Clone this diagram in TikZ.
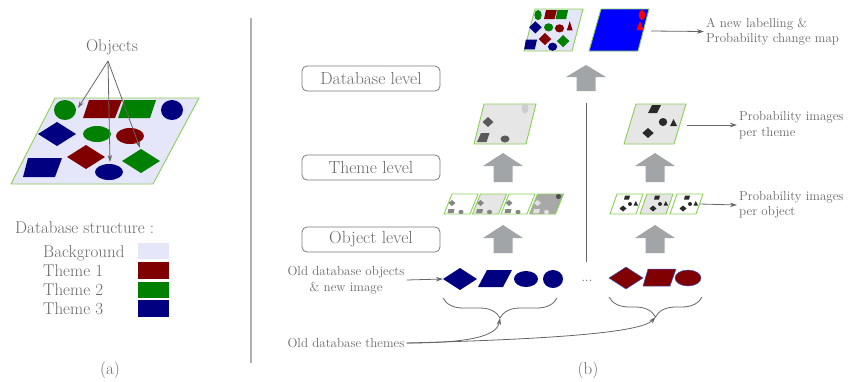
\documentclass[tikz,border=0pt]{standalone}
\usepackage{fontspec}
\usetikzlibrary{arrows.meta,decorations.pathreplacing}
\definecolor{dgreen}{HTML}{008000}
\definecolor{dred}{HTML}{800000}
\definecolor{dblue}{HTML}{000080}
\definecolor{lav}{HTML}{E6E6FA}
\definecolor{bgreen}{HTML}{8CCF55}
\definecolor{txtgray}{HTML}{686868}
\definecolor{boxgray}{HTML}{7A7A7A}
\definecolor{lngray}{HTML}{666666}
\definecolor{arrgray}{HTML}{A2A5A8}
\definecolor{lgray}{HTML}{E6E6E6}
\definecolor{mgray}{HTML}{858585}
\definecolor{dkgray}{HTML}{5A5A5A}
\definecolor{blk}{HTML}{2A2A2A}
\definecolor{divgray}{HTML}{B0B0B0}
\definecolor{pblue}{HTML}{0000FF}
\definecolor{ltgray}{HTML}{CDCDCD}
\definecolor{g4fill}{HTML}{A8A8A8}
\definecolor{g4a}{HTML}{E2E2E2}
\definecolor{g4dark}{HTML}{505050}
\definecolor{edgeblue}{HTML}{3C5AC8}
\newcommand\paral[7]{\path[#1] (#2,#4) -- (#3,#4) -- (#6,#7) -- (#5,#7) -- cycle;}
\newcommand\diam[5]{\path[#1] ({#2-#4},#3) -- (#2,{#3-#5}) -- ({#2+#4},#3) -- (#2,{#3+#5}) -- cycle;}
\newcommand\blockarr[4]{\fill[arrgray] (#1,#2) -- ({#1+20},#3) -- ({#1+9.5},#3) -- ({#1+9.5},#4) -- ({#1-9.5},#4) -- ({#1-9.5},#3) -- ({#1-20},#3) -- cycle;}
\newcommand\dbshapes{%
  \fill[dgreen] (65,110) ellipse [x radius=11,y radius=10];
  \paral{fill=dred}{89}{122}{100}{83}{115}{118}
  \paral{fill=dgreen}{124}{156}{100}{118}{150}{118}
  \diam{fill=dblue}{57}{134}{19}{12}
  \fill[dgreen] (97,134) ellipse [x radius=14,y radius=8];
  \fill[dred] (130,136) ellipse [x radius=14,y radius=8];
  \diam{fill=dred}{86}{157}{19}{12}
  \paral{fill=dblue}{28}{62}{158}{23}{55}{177}
  \fill[dblue] (109,172) ellipse [x radius=14,y radius=8];
  \diam{fill=dgreen}{141}{161}{19}{12}}
\tikzset{
  ann/.style={text=txtgray, font=\fontsize{13}{15.5}\selectfont, inner sep=2pt},
  leg/.style={text=txtgray, font=\fontsize{17}{19}\selectfont, inner sep=0pt},
  lvl/.style={draw=boxgray, line width=0.8pt, rounded corners=5pt, minimum width=138pt,
    minimum height=25pt, text=txtgray, font=\fontsize{17.5}{19}\selectfont, inner sep=0pt},
  conn/.style={draw=lngray, line width=0.8pt, -{Stealth[length=7pt,width=4.5pt]}},
  img/.style={draw=bgreen, line width=0.9pt},
  brc/.style={draw=lngray, line width=0.8pt, decorate, decoration={brace, amplitude=20pt, mirror}}
}
\begin{document}
\begin{tikzpicture}[x=1pt,y=-1pt]
\useasboundingbox (0,0) rectangle (851,381);
% ---------------- panel (a)
\paral{fill=lav, draw=bgreen, line width=0.9pt}{55}{199}{98}{11}{153}{184}
\dbshapes
\fill[dblue] (172,110) ellipse [x radius=11,y radius=10];
\node[leg] (objs) at (112,47) {Objects};
\coordinate (objsrc) at (108,61);
\coordinate (oc1) at (78,108);
\coordinate (oc2) at (110,162);
\coordinate (oc3) at (140,148);
\draw[conn] (objsrc) -- (oc1);
\draw[conn] (objsrc) -- (oc2);
\draw[conn] (objsrc) -- (oc3);
\node[leg, anchor=base west] (dbs) at (15,233) {Database structure :};
\node[leg, anchor=base west] (lbg) at (43,257) {Background};
\node[leg, anchor=base west] (lt1) at (43,276) {Theme 1};
\node[leg, anchor=base west] (lt2) at (43,295) {Theme 2};
\node[leg, anchor=base west] (lt3) at (43,314) {Theme 3};
\fill[lav] (138,243) rectangle (169,259);
\fill[dred] (138,262) rectangle (169,279);
\fill[dgreen] (138,282) rectangle (169,298);
\fill[dblue] (138,300) rectangle (169,317);
\node[leg] (pa) at (110,370) {(a)};
% divider
\draw[draw=divgray, line width=1.5pt] (251,18) -- (251,363);
% ---------------- panel (b)
\node[lvl] (dbl) at (371,78.5) {Database level};
\node[lvl] (thl) at (371,167.5) {Theme level};
\node[lvl] (obl) at (371,239.5) {Object level};
% top images
\paral{fill=lav, draw=bgreen, line width=0.9pt}{535}{583}{9}{524}{572}{51}
\begin{scope}[shift={(516.6,-41)}, xscale=0.33, yscale=0.51]
  \dbshapes
  \fill[dred] (152,140) -- (170,140) -- (161,122) -- cycle;
\end{scope}
\paral{fill=pblue, draw=bgreen, line width=0.9pt}{601}{649}{9}{589}{638}{51}
\fill[red] (642,15) ellipse [x radius=3.2,y radius=5];
\fill[red] (636.5,30) -- (643.5,30) -- (640,21) -- cycle;
\coordinate (mapR) at (651,31);
\node[ann, anchor=west, align=left] (tnew) at (704,31.5) {A new labelling \&\\Probability change map};
\draw[conn] (mapR) -- (tnew.west);
\blockarr{586}{65}{77}{91}
\draw[draw=lngray, line width=0.9pt] (586,103) -- (586,262);
\node[ann] (dots) at (587,281) {...};
% theme level images
\paral{fill=lgray, img}{484}{536}{104}{474}{526}{144}
\diam{fill=dkgray}{488}{122}{5.5}{5}
\paral{fill=dkgray}{481}{489.5}{133}{477}{486.5}{142}
\fill[dkgray] (505,139) ellipse [x radius=4.5,y radius=3.5];
\fill[ltgray] (525,108.5) ellipse [x radius=3.5,y radius=5];
\paral{fill=lgray, img}{636}{686}{104}{624}{674}{144}
\paral{fill=blk}{652}{661}{105}{648}{657}{113}
\fill[blk] (663,122) ellipse [x radius=4.2,y radius=4];
\fill[blk] (670,126) -- (677,126) -- (673.5,119) -- cycle;
\diam{fill=blk}{648}{133}{5.7}{5}
\coordinate (thR) at (687,125);
\node[ann, anchor=west, align=left] (tth) at (737,125) {Probability images\\per theme};
\draw[conn] (thR) -- (tth.west);
\blockarr{503}{153}{166}{182}
\blockarr{655}{153}{166}{182}
% per object images left
\foreach \x/\f in {444/white,472.5/lgray,501/white}{
  \paral{fill=\f, img}{\x+8}{\x+34}{194}{\x}{\x+26}{214}
  \diam{fill=mgray}{\x+8}{203}{3.5}{3}
  \paral{fill=mgray}{\x+4.5}{\x+10.5}{209}{\x+3.5}{\x+9.5}{213}
  \fill[mgray] (\x+17,212) ellipse [x radius=2.6,y radius=2.1];
}
\paral{fill=g4fill, img}{537.5}{563.5}{194}{529.5}{555.5}{214}
\diam{fill=g4a}{537.5}{203}{3.5}{3}
\paral{fill=g4a}{534}{540}{209}{533}{539}{213}
\fill[g4a] (546.5,212) ellipse [x radius=2.6,y radius=2.1];
\fill[g4dark] (558.5,196.5) ellipse [x radius=2.6,y radius=2.6];
% per object images right
\foreach \x/\f in {610/white,640/lgray,670/white}{
  \paral{fill=\f, img}{\x+7}{\x+33}{194}{\x}{\x+26}{214}
  \paral{fill=blk}{\x+15}{\x+20}{195.5}{\x+14}{\x+19}{199.5}
  \fill[blk] (\x+20,204) ellipse [x radius=2,y radius=2];
  \fill[blk] (\x+23.5,205.5) -- (\x+28,205.5) -- (\x+25.8,201) -- cycle;
  \diam{fill=blk}{\x+13}{208.5}{3.5}{3}
}
\coordinate (obR) at (700,204);
\node[ann, anchor=west, align=left] (tob) at (737,205) {Probability images\\per object};
\draw[conn] (obR) -- (tob.west);
\blockarr{503}{225}{238}{253}
\blockarr{655}{225}{238}{253}
% bottom objects left
\diam{fill=dblue}{460}{279}{17}{11}
\paral{fill=dblue}{487}{512}{270}{478}{503}{287}
\fill[dblue] (526,279) ellipse [x radius=12,y radius=8];
\fill[dblue] (553,279) ellipse [x radius=10,y radius=9];
% bottom objects right
\diam{fill=dred, draw=edgeblue, line width=0.5pt}{626}{278}{17}{11}
\paral{fill=dred, draw=edgeblue, line width=0.5pt}{648}{676}{269}{643}{670}{286}
\draw[fill=dred, draw=edgeblue, line width=0.5pt] (688,278) ellipse [x radius=13,y radius=8];
% annotations
\node[ann, align=center] (told) at (346,280) {Old database objects\\\& new image};
\coordinate (bdl) at (443,279);
\draw[conn] (told.east) -- (bdl);
\coordinate (lb1) at (443,298);
\coordinate (lb2) at (557,298);
\coordinate (rb1) at (609,297);
\coordinate (rb2) at (702,297);
\draw[brc] (lb1) -- (lb2);
\draw[brc] (rb1) -- (rb2);
\coordinate (lbt) at (500,318);
\coordinate (rbt) at (655.5,317);
\node[ann] (tthemes) at (346,343) {Old database themes};
\draw[conn] (tthemes.east) .. controls (470,343) and (497,336) .. (lbt);
\draw[conn] (tthemes.east) .. controls (560,339) and (642,332) .. (rbt);
\node[leg] (pb) at (588,370) {(b)};
\end{tikzpicture}
\end{document}
